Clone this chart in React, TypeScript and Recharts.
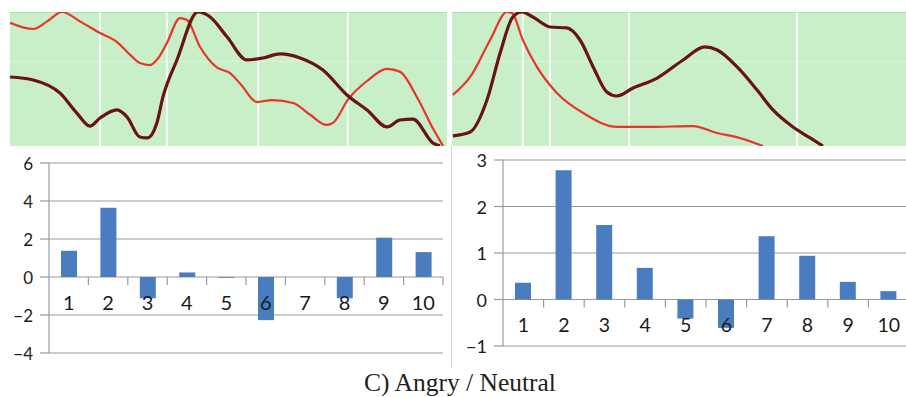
import React from 'react';
import { LineChart, Line, XAxis, YAxis, ReferenceLine, CartesianGrid, BarChart, Bar } from 'recharts';

// ---- Top panels: traced curves (t: 0..100 time, v: 0..100 amplitude) ----
const angryRedCurve: number[][] = [
  [0, 92], [5.3, 87.3], [8.5, 93], [11.9, 100], [16, 93], [20.6, 84.3], [24.5, 77.6], [27.5, 68],
  [29.7, 61.9], [32.0, 60.4], [34, 66], [35.9, 76.9], [38.9, 95.5], [40.5, 94.0], [43.5, 73.9],
  [47.4, 58.5], [50.3, 54.5], [52.8, 46], [56.5, 32.8], [60, 34.3], [64.8, 32.1], [68.6, 23.5],
  [72.5, 15.7], [73.9, 17.2], [77.4, 35], [81.7, 48.5], [86.3, 57.5], [89.2, 55.5], [93.2, 36],
  [96.8, 13], [99.1, 0],
];
const angryDarkCurve: number[][] = [
  [0, 51.5], [5.3, 49.3], [11.4, 39.6], [15.3, 24.6], [18.3, 14.9], [20.6, 20.9], [24.5, 26.9],
  [26.8, 21.6], [29.7, 6.7], [31.4, 6.0], [33.6, 17.2], [35.0, 36.6], [38.2, 64.2], [43.0, 100],
  [45.8, 96.3], [49.7, 81.3], [54.2, 64.2], [57.9, 65.7], [61.8, 68.7], [66.4, 65.7], [71.6, 56.7],
  [77.1, 38.1], [81.7, 26.9], [86.3, 14.2], [89.2, 19.4], [92.2, 20.1], [96.8, 2.2], [98.4, 0],
];
const neutralRedCurve: number[][] = [
  [0.2, 38.1], [4.0, 51.5], [8.4, 79.1], [12.1, 100], [13.2, 99.3], [15.6, 79.1], [18.7, 59.0],
  [23.1, 39.6], [28.9, 24.6], [36.3, 14.2], [43.6, 14.2], [53.1, 14.9], [58.4, 9.7], [63.4, 6.0],
  [68.5, 0],
];
const neutralDarkCurve: number[][] = [
  [0.2, 7.5], [4.0, 10.4], [7.7, 34.3], [10.6, 69.4], [13.4, 96.3], [15.4, 100], [17.8, 96.3],
  [21.6, 88.8], [25.3, 88.1], [28.2, 79.1], [31.1, 59.0], [34.1, 40.3], [36.3, 37.3], [39.9, 43.3],
  [45.2, 50.7], [50.9, 64.2], [55.7, 73.9], [58.4, 71.6], [62.8, 59.0], [67.2, 41.8], [70.7, 26.9],
  [75.1, 14.2], [78.9, 6.0], [81.7, 0],
];
const angryMarkers = [20.6, 35.9, 56.8, 77.3];
const neutralMarkers = [15.6, 21.6, 39.0, 76.0];

// ---- Bottom bar charts ----
const categories = ['1', '2', '3', '4', '5', '6', '7', '8', '9', '10'];
const angryValues = [1.38, 3.64, -1.12, 0.24, -0.04, -2.27, 0, -1.12, 2.07, 1.31];
const neutralValues = [0.36, 2.78, 1.6, 0.68, -0.41, -0.61, 1.36, 0.94, 0.38, 0.18];
const angryTicks = [-4, -2, 0, 2, 4, 6];
const neutralTicks = [-1, 0, 1, 2, 3];

const toPts = (arr: number[][]) => arr.map(([t, v]) => ({ t, v }));
const GREEN = '#c8efc8';
const RED = '#e8352b';
const DARK = '#6b1212';
const GRID = '#9a9a9a';
const BLUE = '#4a7dbf';
const FONT = 'Lato, "Open Sans", sans-serif';
const TEXT = '#1a1a1a';

function CurvePanel({ red, dark, markers, width, height }: any) {
  return (
    <LineChart width={width} height={height} margin={{ top: 0, right: 0, bottom: 0, left: 0 }}>
      <XAxis type="number" dataKey="t" domain={[0, 100]} hide allowDataOverflow />
      <YAxis type="number" domain={[0, 100]} hide />
      <ReferenceLine y={63} stroke="#d4f4d4" strokeWidth={1.5} />
      {markers.map((m: number) => (
        <ReferenceLine key={m} x={m} stroke="#ffffff" strokeWidth={2} strokeOpacity={0.85} />
      ))}
      <Line data={toPts(red)} dataKey="v" type="monotone" dot={false} stroke={RED} strokeWidth={2.2} isAnimationActive={false} />
      <Line data={toPts(dark)} dataKey="v" type="monotone" dot={false} stroke={DARK} strokeWidth={3.2} isAnimationActive={false} />
    </LineChart>
  );
}

function makeXTick(zeroY: number, band: number, fontSize: number) {
  return (props: any) => {
    const { x, payload } = props;
    return (
      <g>
        <line x1={x + band / 2} x2={x + band / 2} y1={zeroY} y2={zeroY + 8} stroke={GRID} strokeWidth={1.2} />
        <text x={x} y={zeroY + 25} textAnchor="middle" dominantBaseline="central" fontSize={fontSize} fill={TEXT} fontFamily={FONT}>
          {payload.value}
        </text>
      </g>
    );
  };
}

function makeYTick(fontSize: number) {
  return (props: any) => {
    const { x, y, payload } = props;
    return (
      <text x={x} y={y} textAnchor="end" dominantBaseline="central" fontSize={fontSize} fill={TEXT} fontFamily={FONT}>
        {String(payload.value).replace('-', '\u2212')}
      </text>
    );
  };
}

function BarPanel({ values, ticks, width, height, margin, yWidth, yFont, xFont }: any) {
  const data = categories.map((c, i) => ({ c, v: values[i] }));
  const min = ticks[0];
  const max = ticks[ticks.length - 1];
  const xAxisH = 1;
  const plotH = height - margin.top - margin.bottom - xAxisH;
  const plotW = width - margin.left - margin.right - yWidth;
  const zeroY = margin.top + (plotH * max) / (max - min);
  const band = plotW / categories.length;
  return (
    <BarChart width={width} height={height} data={data} margin={margin}>
      <CartesianGrid vertical={false} stroke={GRID} strokeWidth={1.2} horizontalValues={ticks} />
      <YAxis
        domain={[min, max]}
        ticks={ticks}
        width={yWidth}
        tickSize={9}
        tickMargin={7}
        interval={0}
        axisLine={{ stroke: GRID, strokeWidth: 1.2 }}
        tickLine={{ stroke: GRID, strokeWidth: 1.2 }}
        tick={makeYTick(yFont)}
      />
      <Bar dataKey="v" fill={BLUE} barSize={16} isAnimationActive={false} />
      <XAxis dataKey="c" height={xAxisH} interval={0} axisLine={false} tickLine={false} tick={makeXTick(zeroY, band, xFont)} />
    </BarChart>
  );
}

export default function App() {
  return (
    <div style={{ position: 'absolute', left: 0, top: 0, width: 906, height: 397, overflow: 'hidden', background: '#ffffff' }}>
      <div style={{ position: 'absolute', left: 10, top: 12, width: 437, height: 134, background: GREEN, borderTop: '1px solid #b9d9b9', boxSizing: 'border-box' }} />
      <div style={{ position: 'absolute', left: 10, top: 12 }}>
        <CurvePanel red={angryRedCurve} dark={angryDarkCurve} markers={angryMarkers} width={437} height={134} />
      </div>
      <div style={{ position: 'absolute', left: 452, top: 12, width: 454, height: 134, background: GREEN, borderTop: '1px solid #b9d9b9', boxSizing: 'border-box' }} />
      <div style={{ position: 'absolute', left: 452, top: 12 }}>
        <CurvePanel red={neutralRedCurve} dark={neutralDarkCurve} markers={neutralMarkers} width={454} height={134} />
      </div>
      <div style={{ position: 'absolute', left: 451, top: 146, width: 1, height: 222, background: '#d4d4d4' }} />
      <div style={{ position: 'absolute', left: 0, top: 140 }}>
        <BarPanel values={angryValues} ticks={angryTicks} width={453} height={230}
          margin={{ top: 23, right: 10, bottom: 16, left: 9 }} yWidth={40} yFont={17} xFont={20} />
      </div>
      <div style={{ position: 'absolute', left: 452, top: 140 }}>
        <BarPanel values={neutralValues} ticks={neutralTicks} width={460} height={230}
          margin={{ top: 20, right: 3, bottom: 23, left: 10 }} yWidth={41} yFont={18} xFont={19.5} />
      </div>
      <svg style={{ position: 'absolute', left: 0, top: 0 }} width={906} height={397}>
        <text x={460} y={391} textAnchor="middle" fontFamily='"Liberation Serif", "Times New Roman", serif' fontSize={25.5} fill="#222">
          C) Angry / Neutral
        </text>
      </svg>
    </div>
  );
}
